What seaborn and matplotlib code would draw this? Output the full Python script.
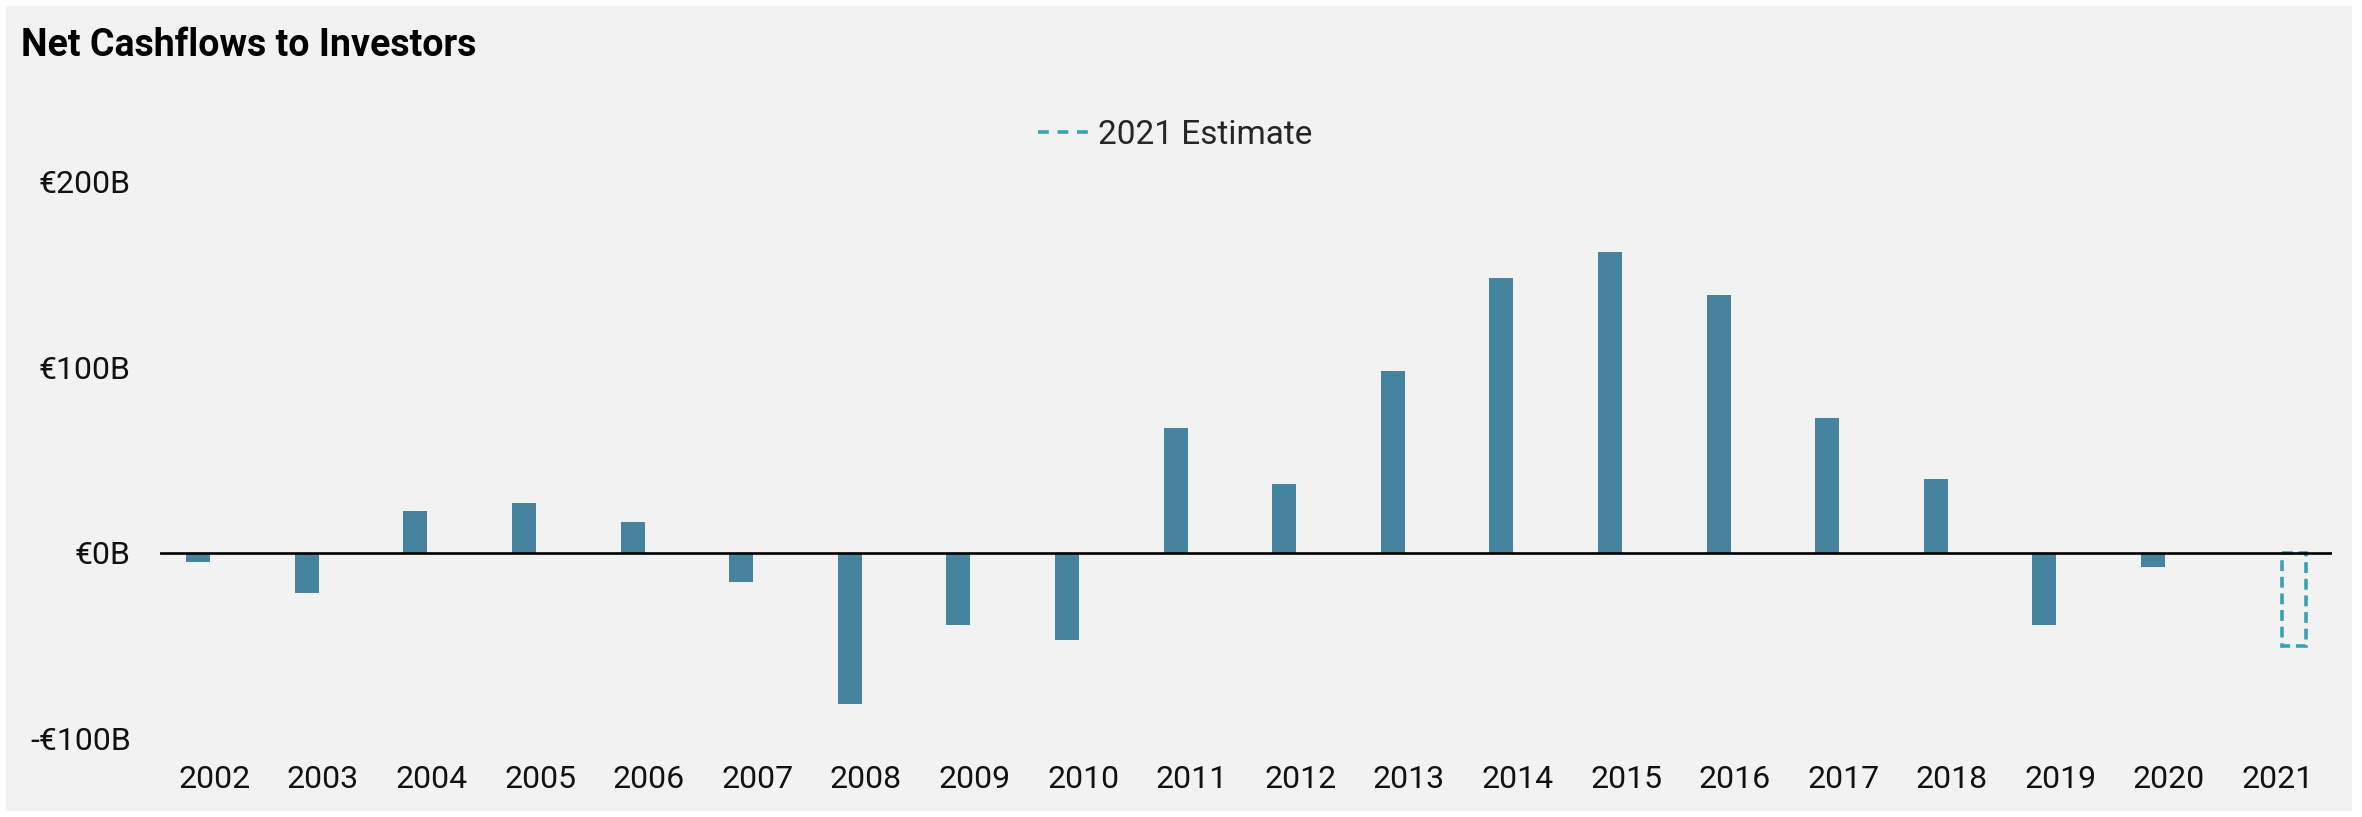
import numpy as np
import pandas as pd
import seaborn as sns
import matplotlib
matplotlib.use("Agg")
import matplotlib.pyplot as plt
from matplotlib.lines import Line2D
from matplotlib.patches import Rectangle

# ---- data ----
years = [str(y) for y in range(2002, 2022)]
actual = [-5, -21.5, 22.5, 27, 16.5, -15.5, -81, -38.5, -47, 67,
          37, 98, 148, 162, 138.5, 72.5, 40, -38.5, -7.5, None]
estimate = [None] * 19 + [-50]
y_ticks = [-100, 0, 100, 200]
y_tick_labels = ["-€100B", "€0B", "€100B", "€200B"]
title = "Net Cashflows to Investors"
legend_label = "2021 Estimate"

rows = []
for yr, a, e in zip(years, actual, estimate):
    if a is not None:
        rows.append({"Year": yr, "Value": a, "Type": "Actual"})
    if e is not None:
        rows.append({"Year": yr, "Value": e, "Type": legend_label})
df = pd.DataFrame(rows)

BAR = "#45839f"
EST = "#37a2b4"
BG = "#f2f2f2"

sns.set_theme(style="white")
plt.rcParams["font.family"] = ["Roboto", "DejaVu Sans"]

W, H = 2362, 817
fig = plt.figure(figsize=(W / 100, H / 100), dpi=100)
fig.patch.set_facecolor("white")
fig.patches.append(Rectangle((6 / W, 6 / H), (2352 - 6) / W, (811 - 6) / H,
                             transform=fig.transFigure, facecolor=BG,
                             edgecolor="none", zorder=-10))

ax = fig.add_axes([160 / W, 1 - 739 / H, (2332 - 160) / W, (739 - 181) / H])
ax.set_facecolor(BG)

sns.barplot(data=df, x="Year", y="Value", hue="Type", order=years,
            hue_order=["Actual", legend_label],
            palette={"Actual": BAR, legend_label: EST}, saturation=1,
            width=0.59, gap=0.25, dodge=True, linewidth=0,
            legend=False, ax=ax, zorder=2)

# style the estimate bar as dashed outline
for p in ax.containers[1]:
    p.set_facecolor("none")
    p.set_edgecolor(EST)
    p.set_linewidth(2.6)
    p.set_linestyle((0, (3.0, 1.6)))

ax.axhline(0, color="black", lw=1.9, zorder=4)

ax.set_xlim(-0.5, 19.5)
ax.set_ylim(-100, 200)
ax.set_yticks(y_ticks)
ax.set_yticklabels(y_tick_labels)
ax.set_xlabel("")
ax.set_ylabel("")
for s in ax.spines.values():
    s.set_visible(False)
ax.tick_params(axis="both", length=0, labelsize=23, colors="#111111")
ax.tick_params(axis="y", pad=21)
ax.tick_params(axis="x", pad=19)
ax.grid(False)

fig.text(21 / W, 1 - 46 / H, title, fontsize=27, fontweight="bold",
         ha="left", va="center", color="black")

handle = Line2D([0], [0], color=EST, lw=2.6, ls=(0, (3.0, 2.4)))
fig.legend(handles=[handle], labels=[legend_label], loc="center",
           bbox_to_anchor=(1175 / W, 1 - 135 / H), frameon=False,
           fontsize=24, handlelength=1.7, handletextpad=0.1)

fig.savefig("out.png", dpi=100, facecolor="white")
